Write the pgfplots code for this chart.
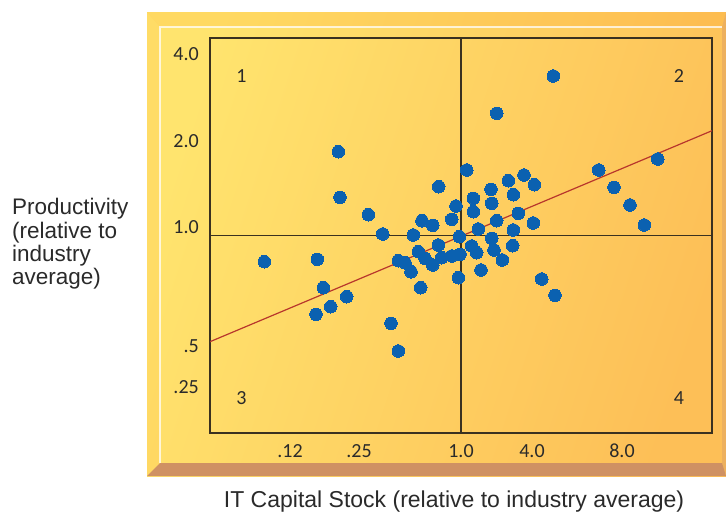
\documentclass[border=0pt]{standalone}
\usepackage{fontspec}
\setmainfont{Liberation Sans}
\newfontfamily\tickfont{Carlito}
\usepackage{pgfplots}
\pgfplotsset{compat=1.18}
\definecolor{dotblue}{HTML}{0B61B0}
\definecolor{trendred}{HTML}{B8362C}
\definecolor{boxline}{HTML}{3A3120}
\definecolor{panelA}{HTML}{FFE46E}
\definecolor{panelB}{HTML}{FDBF57}
\definecolor{bevelbrown}{HTML}{CF9163}
\definecolor{bevelright}{HTML}{EDB05E}
\definecolor{txt}{HTML}{2A2A2A}

\pgfplotstableread{
u v
128.3 281.3
130.0 235.7
158.3 218.3
172.7 199.0
54.3 171.3
107.3 173.7
113.3 145.3
136.7 136.3
120.7 126.3
106.0 118.7
181.0 109.7
188.3 82.0
228.7 246.3
256.7 263.0
212.0 212.3
222.7 207.7
241.7 213.7
246.0 227.0
263.3 234.7
281.0 243.7
281.7 229.7
263.3 221.3
286.7 212.3
268.3 204.0
203.3 198.0
249.3 196.3
281.7 194.7
228.3 188.0
261.7 187.0
266.7 180.3
284.0 183.0
208.3 181.3
188.3 172.3
195.0 170.3
215.0 174.7
222.7 168.0
231.7 175.3
241.7 177.0
250.0 178.7
201.0 161.3
271.0 163.0
248.3 155.3
210.7 145.3
292.3 173.0
343.3 357.0
286.7 319.7
388.7 263.0
447.7 274.0
404.0 245.7
420.0 228.0
434.3 208.0
298.3 252.3
314.0 258.0
324.3 248.3
303.3 238.3
308.3 219.7
323.3 210.0
303.3 203.0
302.7 187.3
331.7 154.0
345.0 137.7
}\dots

\begin{document}
\begin{tikzpicture}
\path[use as bounding box] (0,0) rectangle (726bp,-513bp);
\fill[white] (0,0) rectangle (726bp,-513bp);
\begin{scope}[x=1bp,y=-1bp]
\shade[top color=panelA, bottom color=panelB, shading angle=72] (147,12) rectangle (726,476);
\fill[orange, opacity=0.10] (147,12) -- (726,12) -- (722,27) -- (160,27) -- cycle;
\fill[orange, opacity=0.07] (147,12) -- (160,27) -- (160,463) -- (147,476) -- cycle;
\fill[bevelright] (722,27) -- (726,12) -- (726,476) -- (722,463) -- cycle;
\fill[bevelbrown] (147,476) -- (160,463) -- (722,463) -- (726,476) -- cycle;
\draw[white, opacity=0.75, line width=1.2bp] (160,463) -- (160,27) -- (722,27);
\begin{scope}[every node/.style={anchor=base west, inner sep=0pt, text=txt, font=\fontsize{22.5bp}{23bp}\selectfont}]
\node at (12,214) {Productivity};
\node at (12,238) {(relative to};
\node at (12,261) {industry};
\node at (12,284) {average)};
\end{scope}
\node[anchor=base, inner sep=0pt, text=txt, font=\fontsize{23bp}{24bp}\selectfont] at (454,507) {IT Capital Stock (relative to industry average)};
\end{scope}

\begin{axis}[
  at={(210bp,-433bp)}, anchor=south west,
  scale only axis, width=502bp, height=395bp,
  xmin=0, xmax=502, ymin=0, ymax=395,
  axis line style={boxline, line width=1.5bp},
  xtick={80,149,251,322,412}, xticklabels={.12,.25,1.0,4.0,8.0},
  ytick={40,81,200,286,373}, yticklabels={.25,.5,1.0,2.0,4.0},
  major tick length=0pt,
  tick style={draw=none},
  x tick label style={anchor=base, yshift=-24bp, inner sep=0pt},
  y tick label style={anchor=base east, xshift=-11bp, inner sep=0pt},
  tick label style={font=\fontsize{20bp}{20bp}\tickfont, text=txt},
  clip=true,
]
\addplot[trendred, line width=1.2bp] coordinates {(0,91.3) (502,302.3)};
\addplot[boxline, line width=1.5bp] coordinates {(251,0) (251,395)};
\addplot[boxline, line width=1.5bp] coordinates {(0,197.5) (502,197.5)};
\addplot[dotblue, only marks, mark=*, mark size=6.3bp, mark options={fill=dotblue, draw=dotblue, line width=0pt}] table[x=u, y=v] {\dots};
\begin{scope}[every node/.style={anchor=base, inner sep=0pt, text=txt, font=\fontsize{20bp}{20bp}\tickfont}]
\node at (axis cs:31.5,351) {1};
\node at (axis cs:469,351) {2};
\node at (axis cs:31.5,29) {3};
\node at (axis cs:469,29) {4};
\end{scope}
\end{axis}
\end{tikzpicture}
\end{document}
